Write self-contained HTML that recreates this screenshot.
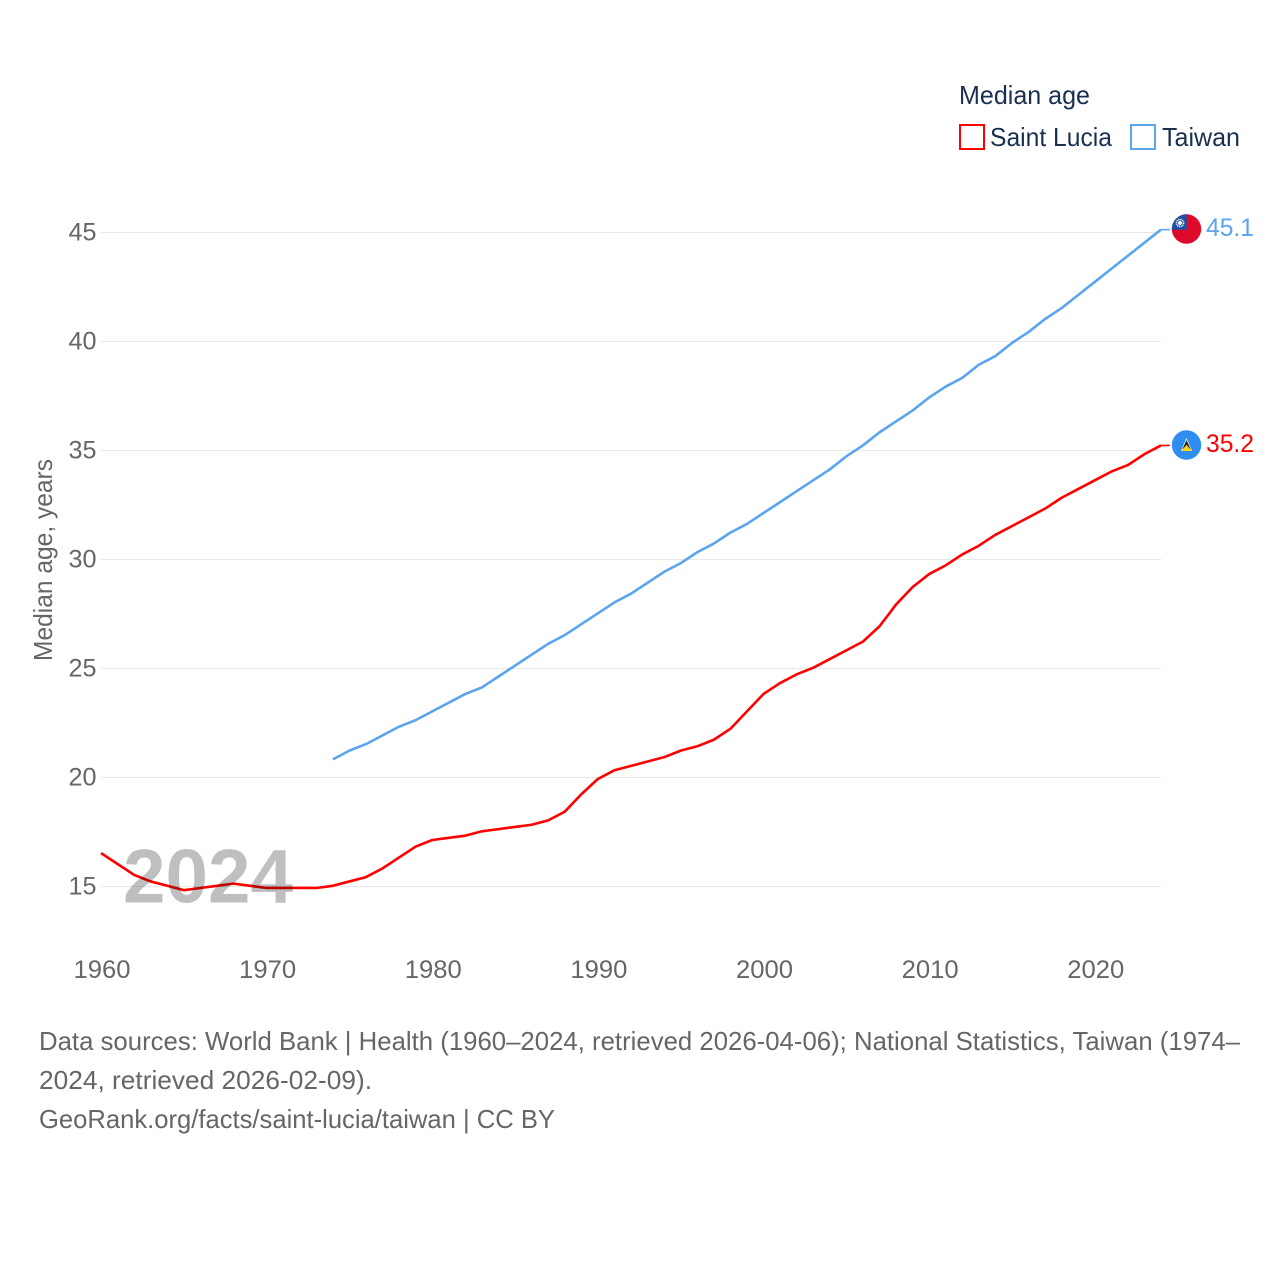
<!DOCTYPE html>
<html lang="en">
<head>
<meta charset="utf-8">
<title>Median age: Saint Lucia and Taiwan</title>
<style>
html,body{margin:0;padding:0;background:#fff;}
svg{display:block;font-family:"Liberation Sans",sans-serif;}
</style>
</head>
<body>
<svg id="chart" xmlns="http://www.w3.org/2000/svg" width="1280" height="1280" viewBox="0 0 1280 1280">
  <rect width="1280" height="1280" fill="#fff"/>
  <g id="grid"></g>
  <g id="yticks"></g>
  <g id="xticks"></g>
  <text transform="translate(52,661) rotate(-90)" font-size="26" fill="#666" textLength="202" lengthAdjust="spacingAndGlyphs">Median age, years</text>
  <g id="series" transform="translate(0,-0.7)"></g>
  <text x="123" y="902.5" font-size="76" font-weight="bold" fill="#000" fill-opacity="0.25" textLength="170" lengthAdjust="spacingAndGlyphs">2024</text>

  <g>
    <text x="959" y="104" font-size="26" fill="#1a3050" textLength="131" lengthAdjust="spacingAndGlyphs">Median age</text>
    <g>
      <rect x="960" y="125" width="24" height="24" fill="#fff" stroke="#ff0000" stroke-width="2"/>
      <text x="990" y="146" font-size="26" fill="#1a3050" textLength="122" lengthAdjust="spacingAndGlyphs">Saint Lucia</text>
    </g>
    <g>
      <rect x="1131" y="125" width="24" height="24" fill="#fff" stroke="#5ba4ee" stroke-width="2"/>
      <text x="1162" y="146" font-size="26" fill="#1a3050" textLength="78" lengthAdjust="spacingAndGlyphs">Taiwan</text>
    </g>
  </g>

  <defs>
    <clipPath id="flag-clip-tw"><circle cx="1186.5" cy="229" r="14.7"/></clipPath>
  </defs>
  <g clip-path="url(#flag-clip-tw)">
    <rect x="1171" y="214" width="31" height="31" fill="#de0a2c"/>
    <rect x="1171" y="214" width="15.7" height="15.7" fill="#1c50a8"/>
    <circle cx="1180" cy="223" r="3.6" fill="none" stroke="#fff" stroke-width="1.6" stroke-dasharray="1.1 0.8"/>
    <circle cx="1180" cy="223" r="2" fill="#fff"/>
  </g>
  <g>
    <circle cx="1186.5" cy="445" r="14.7" fill="#2f8df0"/>
    <polygon points="1186.5,438 1192,451 1181,451" fill="#fff"/>
    <polygon points="1186.5,440 1190.5,449 1182.5,449" fill="#222"/>
    <polygon points="1186.5,445 1192,451 1181,451" fill="#fcd116"/>
  </g>
  <text x="1206" y="236" font-size="25" fill="#5ba4ee" textLength="48" lengthAdjust="spacingAndGlyphs">45.1</text>
  <text x="1206" y="452" font-size="25" fill="#ff0000" textLength="48" lengthAdjust="spacingAndGlyphs">35.2</text>

  <g font-size="26" fill="#666">
    <text x="39" y="1050" textLength="1201" lengthAdjust="spacingAndGlyphs">Data sources: World Bank | Health (1960–2024, retrieved 2026-04-06); National Statistics, Taiwan (1974–</text>
    <text x="39" y="1089" textLength="333" lengthAdjust="spacingAndGlyphs">2024, retrieved 2026-02-09).</text>
    <text x="39" y="1128" textLength="516" lengthAdjust="spacingAndGlyphs">GeoRank.org/facts/saint-lucia/taiwan | CC BY</text>
  </g>
</svg>
<script>
const yTicks = [15, 20, 25, 30, 35, 40, 45];
const xTicks = [1960, 1970, 1980, 1990, 2000, 2010, 2020];
const saintLuciaStartYear = 1960;
const saintLuciaValues = [16.5,16.0,15.5,15.2,15.0,14.8,14.9,15.0,15.1,15.0,14.9,14.9,14.9,14.9,15.0,15.2,15.4,15.8,16.3,16.8,17.1,17.2,17.3,17.5,17.6,17.7,17.8,18.0,18.4,19.2,19.9,20.3,20.5,20.7,20.9,21.2,21.4,21.7,22.2,23.0,23.8,24.3,24.7,25.0,25.4,25.8,26.2,26.9,27.9,28.7,29.3,29.7,30.2,30.6,31.1,31.5,31.9,32.3,32.8,33.2,33.6,34.0,34.3,34.8,35.2];
const taiwanStartYear = 1974;
const taiwanValues = [20.8,21.2,21.5,21.9,22.3,22.6,23.0,23.4,23.8,24.1,24.6,25.1,25.6,26.1,26.5,27.0,27.5,28.0,28.4,28.9,29.4,29.8,30.3,30.7,31.2,31.6,32.1,32.6,33.1,33.6,34.1,34.7,35.2,35.8,36.3,36.8,37.4,37.9,38.3,38.9,39.3,39.9,40.4,41.0,41.5,42.1,42.7,43.3,43.9,44.5,45.1];

const NS = 'http://www.w3.org/2000/svg';
function xScale(year) { return 101 + (year - 1960) * (1161 - 101) / 64; }
function yScale(v) { return 886.5 - (v - 15) * (886.5 - 232.5) / 30; }

const gridG = document.getElementById('grid');
const yG = document.getElementById('yticks');
const xG = document.getElementById('xticks');
const seriesG = document.getElementById('series');

yTicks.forEach(function (t) {
  const line = document.createElementNS(NS, 'line');
  
  
  line.setAttribute('x1', 101);
  line.setAttribute('x2', 1161);
  line.setAttribute('y1', yScale(t));
  line.setAttribute('y2', yScale(t));
  line.setAttribute('stroke', '#e8e8e8');
  line.setAttribute('stroke-width', '1');
  gridG.appendChild(line);

  const label = document.createElementNS(NS, 'text');
  
  
  label.setAttribute('x', 96.5);
  label.setAttribute('y', yScale(t) + 8);
  label.setAttribute('text-anchor', 'end');
  label.setAttribute('font-size', '25');
  label.setAttribute('fill', '#666');
  label.setAttribute('textLength', '28');
  label.setAttribute('lengthAdjust', 'spacingAndGlyphs');
  label.textContent = t;
  yG.appendChild(label);
});

xTicks.forEach(function (t) {
  const label = document.createElementNS(NS, 'text');
  
  
  label.setAttribute('x', xScale(t) + 1);
  label.setAttribute('y', 978);
  label.setAttribute('text-anchor', 'middle');
  label.setAttribute('font-size', '25');
  label.setAttribute('fill', '#666');
  label.setAttribute('textLength', '57');
  label.setAttribute('lengthAdjust', 'spacingAndGlyphs');
  label.textContent = t;
  xG.appendChild(label);
});

function linePoints(startYear, values) {
  return values.map(function (v, i) {
    return xScale(startYear + i).toFixed(2) + ',' + yScale(v).toFixed(2);
  }).join(' ');
}

const lucia = document.createElementNS(NS, 'polyline');


lucia.setAttribute('points', linePoints(saintLuciaStartYear, saintLuciaValues));
lucia.setAttribute('fill', 'none');
lucia.setAttribute('stroke', '#ff0000');
lucia.setAttribute('stroke-width', '2.6');
lucia.setAttribute('stroke-linejoin', 'round');
seriesG.appendChild(lucia);

const taiwan = document.createElementNS(NS, 'polyline');


taiwan.setAttribute('points', linePoints(taiwanStartYear, taiwanValues));
taiwan.setAttribute('fill', 'none');
taiwan.setAttribute('stroke', '#5ba4ee');
taiwan.setAttribute('stroke-width', '2.6');
taiwan.setAttribute('stroke-linejoin', 'round');
seriesG.appendChild(taiwan);

const luciaLead = document.createElementNS(NS, 'line');


luciaLead.setAttribute('x1', xScale(2024));
luciaLead.setAttribute('x2', xScale(2024) + 9);
luciaLead.setAttribute('y1', yScale(saintLuciaValues[saintLuciaValues.length - 1]));
luciaLead.setAttribute('y2', yScale(saintLuciaValues[saintLuciaValues.length - 1]));
luciaLead.setAttribute('stroke', '#ff0000');
luciaLead.setAttribute('stroke-width', '1.5');
seriesG.appendChild(luciaLead);

const taiwanLead = document.createElementNS(NS, 'line');


taiwanLead.setAttribute('x1', xScale(2024));
taiwanLead.setAttribute('x2', xScale(2024) + 9);
taiwanLead.setAttribute('y1', yScale(taiwanValues[taiwanValues.length - 1]));
taiwanLead.setAttribute('y2', yScale(taiwanValues[taiwanValues.length - 1]));
taiwanLead.setAttribute('stroke', '#5ba4ee');
taiwanLead.setAttribute('stroke-width', '1.5');
seriesG.appendChild(taiwanLead);
</script>
</body>
</html>
